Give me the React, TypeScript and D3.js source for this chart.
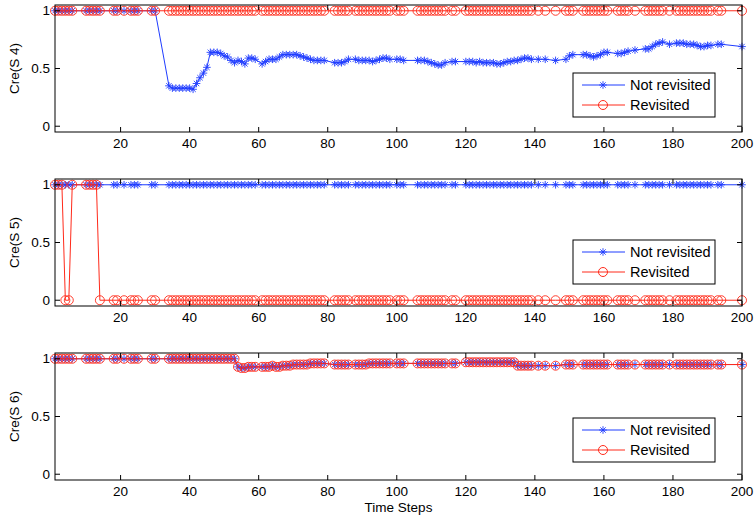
import React from "react";
import * as d3 from "d3";

const steps = [1,2,3,4,5,6,10,11,12,13,14,18,19,21,23,24,25,29,30,34,35,36,37,38,39,40,41,42,43,44,45,46,47,48,49,50,51,52,53,54,55,56,57,58,59,61,62,63,64,65,66,67,68,69,70,71,72,73,74,75,76,77,78,79,82,83,84,85,86,88,89,90,91,92,93,94,95,96,97,98,100,101,102,106,107,108,109,110,111,112,113,114,116,117,120,121,122,123,124,125,126,127,128,129,130,131,132,133,134,135,136,137,138,139,141,143,146,149,150,151,154,155,156,157,158,159,160,161,164,165,166,167,169,172,173,174,175,176,177,179,181,182,183,184,185,186,187,188,189,190,191,193,194,200];

const s4NotRevisitedLate: [number, number][] = [[34,0.35],[35,0.33],[36,0.33],[37,0.33],[38,0.33],[39,0.33],[40,0.33],[41,0.32],[42,0.37],[43,0.42],[44,0.46],[45,0.51],[46,0.64],[47,0.64],[48,0.64],[49,0.63],[50,0.61],[51,0.6],[52,0.57],[53,0.55],[54,0.57],[55,0.56],[56,0.54],[57,0.59],[58,0.59],[59,0.58],[61,0.54],[62,0.56],[63,0.58],[64,0.58],[65,0.58],[66,0.6],[67,0.62],[68,0.62],[69,0.62],[70,0.62],[71,0.62],[72,0.61],[73,0.6],[74,0.59],[75,0.58],[76,0.57],[77,0.57],[78,0.57],[79,0.57],[82,0.55],[83,0.55],[84,0.55],[85,0.56],[86,0.58],[88,0.58],[89,0.57],[90,0.57],[91,0.57],[92,0.57],[93,0.56],[94,0.57],[95,0.58],[96,0.59],[97,0.59],[98,0.58],[100,0.58],[101,0.58],[102,0.57],[106,0.57],[107,0.57],[108,0.57],[109,0.56],[110,0.55],[111,0.54],[112,0.53],[113,0.53],[114,0.55],[116,0.56],[117,0.56],[120,0.56],[121,0.56],[122,0.56],[123,0.55],[124,0.56],[125,0.55],[126,0.55],[127,0.55],[128,0.55],[129,0.54],[130,0.54],[131,0.55],[132,0.56],[133,0.56],[134,0.57],[135,0.57],[136,0.58],[137,0.59],[138,0.59],[139,0.58],[141,0.58],[143,0.58],[146,0.57],[149,0.58],[150,0.61],[151,0.62],[154,0.62],[155,0.62],[156,0.61],[157,0.6],[158,0.61],[159,0.62],[160,0.64],[161,0.64],[164,0.63],[165,0.63],[166,0.64],[167,0.65],[169,0.66],[172,0.67],[173,0.67],[174,0.69],[175,0.71],[176,0.72],[177,0.73],[179,0.71],[181,0.72],[182,0.72],[183,0.72],[184,0.71],[185,0.71],[186,0.71],[187,0.7],[188,0.69],[189,0.69],[190,0.7],[191,0.7],[193,0.71],[194,0.71],[200,0.69]];

const s5RevisitedEarly: [number, number][] = [[1,1],[2,1],[3,1],[4,0],[5,0],[6,1],[10,1],[11,1],[12,1],[13,1]];

const s6Late: [number, number][] = [[54,0.93],[55,0.92],[56,0.92],[57,0.93],[58,0.93],[59,0.93],[61,0.93],[62,0.93],[63,0.93],[64,0.94],[65,0.93],[66,0.93],[67,0.94],[68,0.94],[69,0.94],[70,0.95],[71,0.95],[72,0.95],[73,0.95],[74,0.95],[75,0.96],[76,0.96],[77,0.96],[78,0.96],[79,0.96],[82,0.95],[83,0.95],[84,0.95],[85,0.95],[86,0.95],[88,0.95],[89,0.95],[90,0.95],[91,0.95],[92,0.96],[93,0.96],[94,0.96],[95,0.96],[96,0.96],[97,0.96],[98,0.96],[100,0.96],[101,0.96],[102,0.96],[106,0.96],[107,0.96],[108,0.96],[109,0.96],[110,0.96],[111,0.96],[112,0.96],[113,0.96],[114,0.96],[116,0.96],[117,0.96],[120,0.97],[121,0.97],[122,0.97],[123,0.97],[124,0.97],[125,0.97],[126,0.97],[127,0.97],[128,0.97],[129,0.97],[130,0.97],[131,0.97],[132,0.97],[133,0.97],[134,0.97],[135,0.94],[136,0.94],[137,0.94],[138,0.94],[139,0.94],[141,0.94],[143,0.94],[146,0.94],[149,0.95],[150,0.95],[151,0.95],[154,0.95],[155,0.95],[156,0.95],[157,0.95],[158,0.95],[159,0.95],[160,0.95],[161,0.95],[164,0.95],[165,0.95],[166,0.95],[167,0.95],[169,0.95],[172,0.95],[173,0.95],[174,0.95],[175,0.95],[176,0.95],[177,0.95],[179,0.95],[181,0.95],[182,0.95],[183,0.95],[184,0.95],[185,0.95],[186,0.95],[187,0.95],[188,0.95],[189,0.95],[190,0.95],[191,0.95],[193,0.95],[194,0.95],[200,0.95]];

const xTicks = [20,40,60,80,100,120,140,160,180,200];
const yTicks = [0,0.5,1];
const yTickLabels = ["0","0.5","1"];

function lookup(pairs: [number, number][], x: number, before: number, after: number) {
  const f = pairs.find(p => p[0] === x);
  if (f) return f[1];
  return x < pairs[0][0] ? before : after;
}

const s4NR = steps.map(x => [x, lookup(s4NotRevisitedLate, x, 1, 0.69)] as [number, number]);
const s4R = steps.map(x => [x, 1] as [number, number]);
const s5NR = steps.map(x => [x, 1] as [number, number]);
const s5R = steps.map(x => [x, lookup(s5RevisitedEarly, x, 1, 0)] as [number, number]);
const s6NR = steps.map(x => [x, lookup(s6Late, x, 1, 0.95)] as [number, number]);
const s6R = s6NR;

const BLUE = "#1f3cff";
const RED = "#ff2a1a";
const FONT = "'Liberation Sans', Arial, sans-serif";

const panels = [
  { label: "Cre(S 4)", top: 5, nr: s4NR, r: s4R, legendTop: 73, xlabel: false },
  { label: "Cre(S 5)", top: 179, nr: s5NR, r: s5R, legendTop: 240, xlabel: false },
  { label: "Cre(S 6)", top: 353, nr: s6NR, r: s6R, legendTop: 418, xlabel: true },
];

const L = 55, R = 742, H = 127;
const x = d3.scaleLinear().domain([1, 200]).range([L, R]);

function Star({ cx, cy, c }: { cx: number; cy: number; c: string }) {
  const s = 3.8, d = 2.7;
  return (
    <g stroke={c} strokeWidth={0.9}>
      <line x1={cx - s} y1={cy} x2={cx + s} y2={cy} />
      <line x1={cx} y1={cy - s} x2={cx} y2={cy + s} />
      <line x1={cx - d} y1={cy - d} x2={cx + d} y2={cy + d} />
      <line x1={cx - d} y1={cy + d} x2={cx + d} y2={cy - d} />
    </g>
  );
}

function Panel({ p }: { p: typeof panels[0] }) {
  const y = d3.scaleLinear().domain([-0.05, 1.05]).range([p.top + H, p.top]);
  const line = d3.line<[number, number]>().x(d => x(d[0])).y(d => y(d[1]));
  const lx = 573, lw = 142, lh = 44, ly = p.legendTop;
  return (
    <g>
      <path d={line(p.nr) || ""} fill="none" stroke={BLUE} strokeWidth={1} />
      {p.nr.map((d, i) => <Star key={i} cx={x(d[0])} cy={y(d[1])} c={BLUE} />)}
      <path d={line(p.r) || ""} fill="none" stroke={RED} strokeWidth={1} />
      {p.r.map((d, i) => <circle key={i} cx={x(d[0])} cy={y(d[1])} r={4.5} fill="none" stroke={RED} strokeWidth={0.9} />)}
      <rect x={L} y={p.top} width={R - L} height={H} fill="none" stroke="#000" strokeWidth={1} />
      {xTicks.map(t => (
        <g key={t}>
          <line x1={x(t)} x2={x(t)} y1={p.top + H} y2={p.top + H - 5} stroke="#000" />
          <line x1={x(t)} x2={x(t)} y1={p.top} y2={p.top + 5} stroke="#000" />
          <text x={x(t)} y={p.top + H + 16} textAnchor="middle" fontSize={13.5} fontFamily={FONT}>{t}</text>
        </g>
      ))}
      {yTicks.map((t, i) => (
        <g key={t}>
          <line x1={L} x2={L + 5} y1={y(t)} y2={y(t)} stroke="#000" />
          <line x1={R} x2={R - 5} y1={y(t)} y2={y(t)} stroke="#000" />
          <text x={L - 5} y={y(t) + 4.5} textAnchor="end" fontSize={13.5} fontFamily={FONT}>{yTickLabels[i]}</text>
        </g>
      ))}
      <text transform={`translate(19,${p.top + H / 2}) rotate(-90)`} textAnchor="middle" fontSize={13.5} fontFamily={FONT}>{p.label}</text>
      {p.xlabel && <text x={x(100.5)} y={p.top + H + 32} textAnchor="middle" fontSize={13.5} fontFamily={FONT}>Time Steps</text>}
      <rect x={lx} y={ly} width={lw} height={lh} fill="#fff" stroke="#000" strokeWidth={1} />
      <line x1={lx + 9} x2={lx + 52} y1={ly + 12} y2={ly + 12} stroke={BLUE} />
      <Star cx={lx + 30} cy={ly + 12} c={BLUE} />
      <text x={lx + 57} y={ly + 17} fontSize={14.5} fontFamily={FONT}>Not revisited</text>
      <line x1={lx + 9} x2={lx + 52} y1={ly + 32} y2={ly + 32} stroke={RED} />
      <circle cx={lx + 30} cy={ly + 32} r={4.5} fill="none" stroke={RED} />
      <text x={lx + 57} y={ly + 37} fontSize={14.5} fontFamily={FONT}>Revisited</text>
    </g>
  );
}

export default function App() {
  return (
    <svg width={754} height={525} style={{ position: "absolute", left: 0, top: 0, background: "#fff" }}>
      <rect width={754} height={525} fill="#fff" />
      {panels.map((p, i) => <Panel key={i} p={p} />)}
    </svg>
  );
}
